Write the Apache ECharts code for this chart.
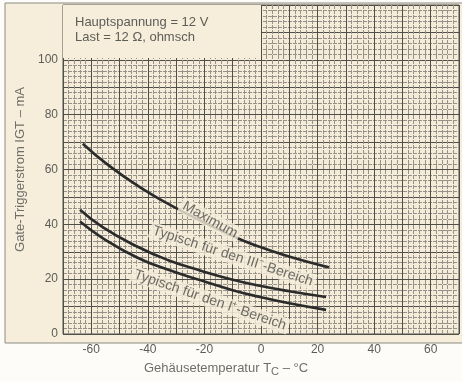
<!DOCTYPE html>
<html>
<head>
<meta charset="utf-8">
<script src="https://cdn.jsdelivr.net/npm/echarts@6/dist/echarts.min.js"></script>
<style>
  html, body { margin: 0; padding: 0; background: #fdfcf8; }
  #chart { width: 462px; height: 382px; }
</style>
</head>
<body>
<div id="chart"></div>
<script>
// Gate-Triggerstrom über Gehäusetemperatur
const tempMax = [-63, -54, -42, -32, -20, -7, 1, 12, 24];
const igtMax = [69.4, 61.6, 53.0, 47.0, 40.6, 34.4, 31.3, 27.6, 24.3];

const tempIII = [-64, -56, -44, -33, -21, -10, 0, 10, 23];
const igtIII = [45.3, 39, 32, 27, 23, 19.8, 17.5, 15.6, 13.5];

const tempI = [-64, -56, -44, -33, -21, -10, 0, 10, 23];
const igtI = [41, 35, 28, 23.5, 19.5, 16, 13.4, 11.2, 8.8];

const xTickLabels = [-60, -40, -20, 0, 20, 40, 60];
const yTickLabels = [0, 20, 40, 60, 80, 100];

const curveLabels = [
    { text: 'Maximum', x: -18, y: 41.6, rotate: -29 },
    { text: 'Typisch für den III\u207B-Bereich', x: -10, y: 28.4, rotate: -18 },
    { text: 'Typisch für den I\u207A-Bereich', x: -18, y: 12.4, rotate: -19 }
];

const ink = '#2b2b2b';
const textGrey = '#5c5c58';
const cream = '#f6eedb';

const zip = (xs, ys) => xs.map((x, i) => [x, ys[i]]);

const curveStyle = { color: ink, width: 2.6 };

const chart = echarts.init(document.getElementById('chart'));

const option = {
    animation: false,
    backgroundColor: '#fdfcf8',
    textStyle: { fontFamily: 'Liberation Sans, Arial, sans-serif' },
    graphic: [
        {
            type: 'rect',
            z: -1,
            shape: { x: 5, y: 3, width: 480, height: 340 },
            style: { fill: cream, stroke: '#8b8a82', lineWidth: 1 }
        }
    ],
    grid: {
        left: 63,
        right: -3,
        top: 5,
        bottom: 43,
        show: true,
        backgroundColor: '#f4ecd8',
        borderColor: '#55554f',
        borderWidth: 1
    },
    xAxis: {
        type: 'value',
        min: -70,
        max: 70,
        interval: 10,
        name: 'Gehäusetemperatur T{sub|C} \u2013 °C',
        nameLocation: 'middle',
        nameGap: 26,
        nameTextStyle: {
            color: '#6f6f6a',
            fontSize: 13,
            padding: [0, 70, 0, 0],
            rich: { sub: { fontSize: 11, verticalAlign: 'bottom', padding: [6, 0, 0, 0], color: '#6f6f6a' } }
        },
        axisLine: { show: false },
        axisTick: { show: false },
        axisLabel: {
            color: textGrey,
            fontSize: 12,
            margin: 10,
            formatter: v => xTickLabels.includes(v) ? String(v) : ''
        },
        splitLine: { show: true, lineStyle: { color: '#4f4e48', width: 1 } },
        minorTick: { show: false, splitNumber: 5 },
        minorSplitLine: { show: true, lineStyle: { color: '#96928a', width: 1, type: [4, 1] } }
    },
    yAxis: {
        type: 'value',
        min: 0,
        max: 120,
        interval: 10,
        name: 'Gate-Triggerstrom IGT \u2013 mA',
        nameLocation: 'middle',
        nameGap: 30,
        nameTextStyle: { color: '#6f6f6a', fontSize: 13 },
        axisLine: { show: false },
        axisTick: { show: false },
        axisLabel: {
            color: textGrey,
            fontSize: 12,
            margin: 5,
            formatter: v => yTickLabels.includes(v) ? String(v) : ''
        },
        splitLine: { show: true, lineStyle: { color: '#4f4e48', width: 1 } },
        minorTick: { show: false, splitNumber: 5 },
        minorSplitLine: { show: true, lineStyle: { color: '#96928a', width: 1, type: [4, 1] } }
    },
    series: [
        {
            name: 'Maximum',
            type: 'line',
            smooth: true,
            symbol: 'none',
            lineStyle: curveStyle,
            data: zip(tempMax, igtMax),
            markArea: {
                silent: true,
                itemStyle: { color: cream, opacity: 1 },
                label: {
                    show: true,
                    position: 'insideTopLeft',
                    distance: 0,
                    offset: [12, 10],
                    color: textGrey,
                    fontSize: 13,
                    lineHeight: 15,
                    formatter: 'Hauptspannung = 12 V\nLast = 12 \u03A9, ohmsch'
                },
                data: [[{ coord: [-70, 100.7] }, { coord: [0, 120] }]]
            }
        },
        {
            name: 'III',
            type: 'line',
            smooth: true,
            symbol: 'none',
            lineStyle: curveStyle,
            data: zip(tempIII, igtIII)
        },
        {
            name: 'I',
            type: 'line',
            smooth: true,
            symbol: 'none',
            lineStyle: curveStyle,
            data: zip(tempI, igtI)
        },
        {
            name: 'labels',
            type: 'scatter',
            symbolSize: 0,
            silent: true,
            z: 5,
            data: curveLabels.map(l => ({
                value: [l.x, l.y],
                label: {
                    show: true,
                    position: 'inside',
                    rotate: l.rotate,
                    formatter: l.text,
                    color: '#4a4a46',
                    fontSize: 14,
                    backgroundColor: cream,
                    padding: [1, 3]
                }
            }))
        }
    ]
};

chart.setOption(option);
</script>
</body>
</html>
